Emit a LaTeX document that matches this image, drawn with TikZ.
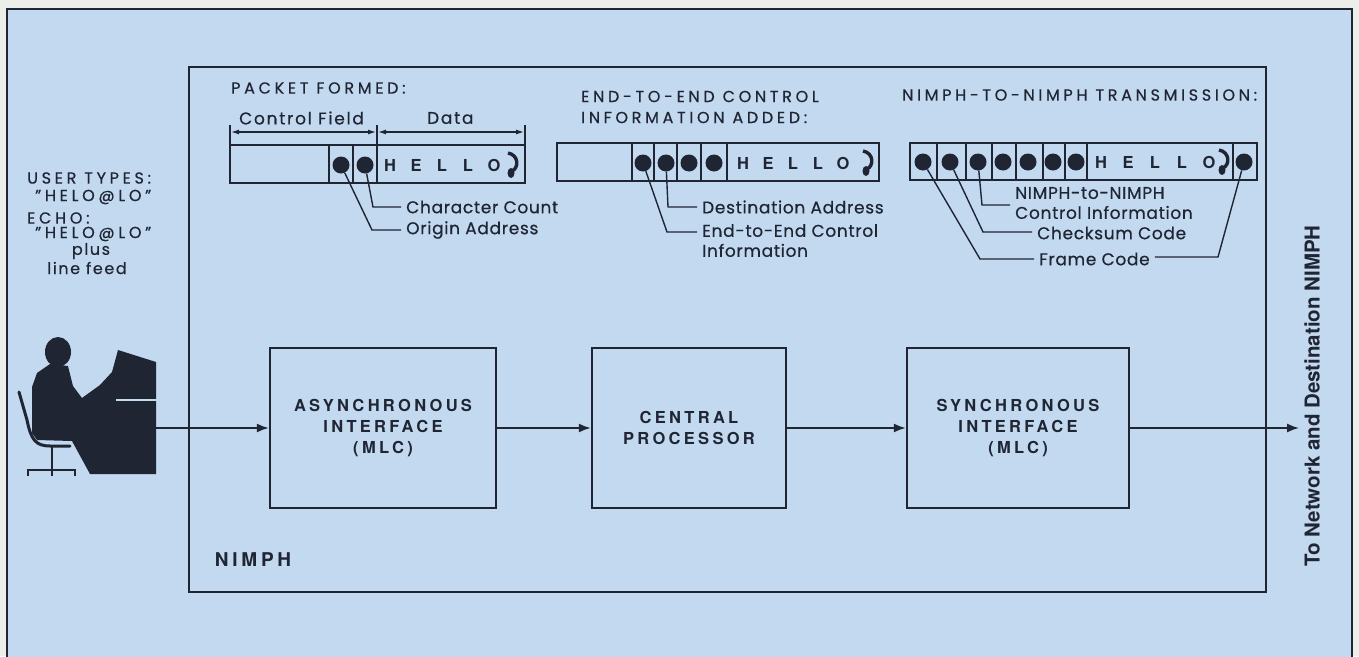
\documentclass[tikz,border=0pt]{standalone}
\usepackage{fontspec}
\setmainfont{Poppins}
\newfontfamily\labelfont[FakeBold=0.5, LetterSpace=4]{Poppins}
\newfontfamily\widefont[FakeBold=0.5, LetterSpace=10]{Poppins}
\newfontfamily\capsfont[FakeBold=0.5, LetterSpace=23]{Poppins}
\newfontfamily\boxfont[LetterSpace=20]{TeX Gyre Heros}
\newfontfamily\plainsans{TeX Gyre Heros}
\usetikzlibrary{arrows.meta}

\definecolor{paper}{RGB}{236,238,234}
\definecolor{plate}{RGB}{194,217,240}
\definecolor{ink}{RGB}{32,37,52}

\tikzset{
  stage/.style={draw=ink, line width=2.5pt, minimum height=160pt,
    font=\boxfont\bfseries\fontsize{16.5}{21}\selectfont, align=center, text=ink},
  flow/.style={draw=ink, line width=1.6pt, -{Latex[length=12pt,width=9pt]}},
  cell/.style={draw=ink, line width=1.8pt},
  bit/.style={circle, fill=ink, inner sep=0pt, minimum size=17pt},
  lead/.style={draw=ink, line width=1.4pt, shorten >=5pt},
  span/.style={draw=ink, line width=1.2pt,
    {Latex[length=8pt,width=5pt]}-{Latex[length=8pt,width=5pt]}},
  note/.style={anchor=west, inner sep=0pt, text=ink, align=left,
    font=\labelfont\fontsize{17}{20}\selectfont},
  pkttitle/.style={anchor=west, inner sep=0pt, text=ink, align=left,
    font=\capsfont\fontsize{16}{21}\selectfont},
  hello/.style={inner sep=0pt, text=ink, font=\plainsans\bfseries\fontsize{16.5}{18}\selectfont},
  % end-of-message hook after the text
  eom/.pic={
    \draw[ink, line width=3.4pt] (-5,-11) .. controls (6,-9) and (6,4) .. (-1,7);
    \fill[ink] (-2,9) ellipse (3.5 and 5);
  }
}

\begin{document}
\begin{tikzpicture}[x=1pt, y=-1pt]
  \useasboundingbox (0,0) rectangle (1359,656);
  \fill[paper] (0,0) rectangle (1359,656);
  \fill[plate] (7,9) rectangle (1352,670);
  \draw[ink, line width=2pt] (7,670) -- (7,9) -- (1352,9) -- (1352,670);
  \draw[ink, line width=2.8pt] (189,67) rectangle (1266,592);
  \node[text=ink, font=\boxfont\bfseries\fontsize{19}{22}\selectfont] (nimph) at (253,560) {NIMPH};

  % user side
  \node[pkttitle] (user) at (27,178) {USER TYPES:};
  \node[pkttitle] (usertxt) at (35,197) {”HELO@LO”};
  \node[pkttitle] (echo) at (27,218) {ECHO:};
  \node[pkttitle] (echotxt) at (35,234) {”HELO@LO”};
  \node[note, anchor=center, font=\widefont\fontsize{16}{20}\selectfont] (plus) at (91,251) {plus};
  \node[note, anchor=center, font=\widefont\fontsize{16}{20}\selectfont] (lf) at (87,268) {line feed};

  % operator at the terminal
  \fill[ink] (58,352) ellipse (13 and 15);
  \fill[ink] (50,364) -- (37,373) -- (32,387) -- (32,433) -- (37,440) -- (72,441)
    -- (90,474) -- (156,474) -- (156,362) -- (118,350) -- (112,372) -- (100,385)
    -- (82,398) -- (73,386) -- (68,366) -- cycle;
  \draw[plate, line width=2.5pt] (116,400) -- (157,400);
  \draw[ink, line width=3pt, line cap=round] (19,392) -- (27,420)
    .. controls (31,440) and (36,446) .. (50,446) -- (70,446);
  \draw[ink, line width=2.5pt] (52,446) -- (52,470);
  \draw[ink, line width=2.5pt] (27,470) -- (76,470);
  \foreach \x in {28,52,75} \draw[ink, line width=2pt] (\x,470) -- (\x,476);
  \coordinate (tty) at (156,428);

  % the three stages
  \node[stage, minimum width=226pt] (async) at (383,428) {ASYNCHRONOUS\\INTERFACE\\(MLC)};
  \node[stage, minimum width=194pt] (cpu) at (689,428) {CENTRAL\\PROCESSOR};
  \node[stage, minimum width=222pt] (sync) at (1018,428) {SYNCHRONOUS\\INTERFACE\\(MLC)};
  \coordinate (net) at (1299,428);
  \draw[flow] (tty) -- (async.west);
  \draw[flow] (async) -- (cpu);
  \draw[flow] (cpu) -- (sync);
  \draw[flow] (sync.east) -- (net);
  \node[rotate=90, text=ink, font=\plainsans\bfseries\fontsize{20.5}{22}\selectfont] (dest) at (1312,396)
    {To Network and Destination NIMPH};

  % packet formed
  \node[pkttitle] (t1) at (231,88) {PACKET FORMED:};
  \node[note, font=\widefont\fontsize{17}{20}\selectfont] (cf) at (239,118) {Control Field};
  \node[note, font=\widefont\fontsize{17}{20}\selectfont] (dt) at (427,118) {Data};
  \foreach \x in {230,377,525} \draw[ink, line width=1.2pt] (\x,125) -- (\x,145);
  \draw[span] (231,132) -- (376,132);
  \draw[span] (378,132) -- (524,132);
  \draw[cell] (230,145) rectangle (525,183);
  \foreach \x in {329,353,377} \draw[cell] (\x,145) -- (\x,183);
  \node[bit] (p1a) at (341,165) {};
  \node[bit] (p1b) at (365,165) {};
  \foreach \c [count=\i] in {H,E,L,L,O} \node[hello] at ({364+26*\i},165) {\c};
  \pic at (513,164) {eom};
  \coordinate (k1a) at (372,230);
  \coordinate (k1b) at (373,207);
  \node[note] (l1a) at (406,230) {Origin Address};
  \node[note] (l1b) at (406,207) {Character Count};
  \draw[lead] (p1a) -- (k1a) -- (l1a.west |- k1a);
  \draw[lead] (p1b) -- (k1b) -- (l1b.west |- k1b);

  % end-to-end control information added
  \node[pkttitle] (t2) at (581,107) {END-TO-END CONTROL\\INFORMATION ADDED:};
  \draw[cell] (557,143) rectangle (879,181);
  \foreach \x in {632,654,677,701,727} \draw[cell] (\x,143) -- (\x,181);
  \foreach \x [count=\i] in {643,666,689,714} \node[bit] (p2\i) at (\x,163) {};
  \foreach \c [count=\i] in {H,E,L,L,O} \node[hello] at ({718+25*\i},163) {\c};
  \pic at (868,162) {eom};
  \coordinate (k2a) at (667,232);
  \coordinate (k2b) at (668,207);
  \node[note, anchor=north west] (l2a) at (702,224) {End-to-End Control\\Information};
  \node[note] (l2b) at (702,207) {Destination Address};
  \draw[lead] (p21) -- (k2a) -- (l2a.west |- k2a);
  \draw[lead] (p22) -- (k2b) -- (l2b.west |- k2b);

  % nimph-to-nimph transmission
  \node[pkttitle] (t3) at (902,95) {NIMPH-TO-NIMPH TRANSMISSION:};
  \draw[cell] (910,143) rectangle (1257,180);
  \foreach \x in {937,966,992,1016,1043,1065,1087,1233} \draw[cell] (\x,143) -- (\x,180);
  \foreach \x [count=\i] in {923,950,978,1003,1028,1053,1076,1244} \node[bit] (p3\i) at (\x,162) {};
  \foreach \c [count=\i] in {H,E,L,L,O} \node[hello] at ({1074+27*\i},162) {\c};
  \pic at (1224,161) {eom};
  \coordinate (k3a) at (980,259);
  \coordinate (k3b) at (983,232);
  \coordinate (k3c) at (982,205);
  \coordinate (k3h) at (1218,257);
  \node[note] (l3c) at (1015,203) {NIMPH-to-NIMPH\\Control Information};
  \node[note] (l3b) at (1037,233) {Checksum Code};
  \node[note] (l3a) at (1039,259) {Frame Code};
  \draw[lead] (p31) -- (k3a) -- (l3a.west |- k3a);
  \draw[lead] (p32) -- (k3b) -- (l3b.west |- k3b);
  \draw[lead] (p33) -- (k3c) -- (l3c.west |- k3c);
  \draw[lead] (p38) -- (k3h) -- (l3a.east |- k3h);
\end{tikzpicture}
\end{document}
